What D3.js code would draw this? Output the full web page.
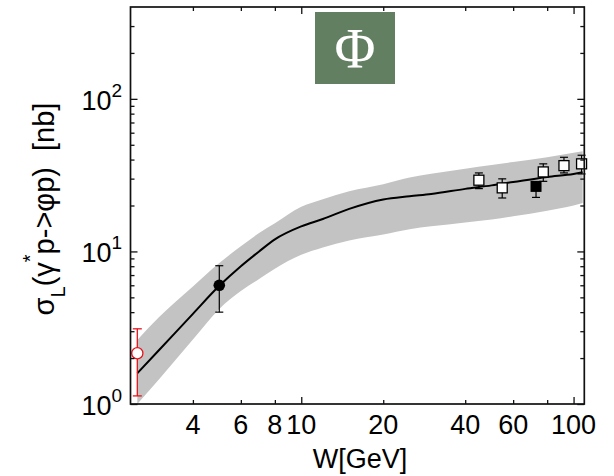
<!DOCTYPE html>
<html>
<head>
<meta charset="utf-8">
<script src="https://cdn.jsdelivr.net/npm/d3@7"></script>
<style>
  html, body { margin: 0; padding: 0; background: #fff; }
  svg { display: block; }
</style>
</head>
<body>
<svg id="chart" width="614" height="476"></svg>
<script>
// ---------- data ----------
const curveW     = [2.5, 3, 4, 5, 6, 7, 8, 10, 12, 15, 20, 25, 30, 40, 50, 60, 80, 100, 108];
const curveSigma = [1.59, 2.25, 3.9, 5.95, 8.0, 10.0, 12.0, 14.6, 16.3, 19.0, 21.9, 23.0, 23.8, 25.7, 27.1, 28.5, 30.8, 32.2, 33.0];
const bandUpper  = [2.63, 3.7, 5.9, 8.4, 10.8, 13.2, 15.3, 19.6, 22.0, 24.8, 27.6, 30.5, 32.3, 34.8, 36.8, 38.5, 41.5, 44.3, 45.4];
const bandLower  = [1.0, 1.45, 2.65, 4.2, 5.5, 6.6, 7.7, 9.5, 10.6, 11.8, 12.9, 14.0, 14.6, 15.5, 16.2, 17.0, 18.5, 20.0, 20.8];

const redW = [2.5],  redSigma = [2.15],  redLo = [1.13], redHi = [3.11];
const dotW = [5.0],  dotSigma = [6.0],   dotLo = [4.0],  dotHi = [8.06];
const openW     = [44.9, 54.7, 77.4, 92.2, 107];
const openSigma = [29.3, 26.1, 33.2, 36.5, 37.5];
const openLo    = [25.8, 22.4, 28.8, 32.7, 32.2];
const openHi    = [32.7, 29.9, 37.5, 41.4, 42.7];
const fillW = [72.8], fillSigma = [26.7], fillLo = [22.6], fillHi = [28.6];

const xTickValues  = [4, 6, 8, 10, 20, 40, 60, 80, 100];
const xLabelValues = [4, 6, 8, 10, 20, 40, 60, 100];
const xLabelTexts  = ["4", "6", "8", "10", "20", "40", "60", "100"];
const xMajor = [10, 100];
const yMajorValues = [1, 10, 100];
const yMajorExp = ["0", "1", "2"];
const yMinorValues = [2,3,4,5,6,7,8,9,20,30,40,50,60,70,80,90,200,300];

// ---------- layout ----------
const L = 130.5, R = 584.3, T = 7, B = 404;
const svg = d3.select("#chart");
const x = d3.scaleLog().domain([2.36, 109.5]).range([L, R]);
const y = d3.scaleLog().domain([1, 400]).range([B, T]);
const FONT = "'Liberation Sans', Arial, sans-serif";

// band
const bandData = curveW.map((w, i) => ({w, lo: bandLower[i], hi: bandUpper[i]}));
svg.append("path")
  .datum(bandData)
  .attr("fill", "#c3c3c3")
  .attr("d", d3.area().x(d => x(d.w)).y0(d => y(d.lo)).y1(d => y(d.hi)).curve(d3.curveMonotoneX));

// curve
svg.append("path")
  .datum(curveW.map((w, i) => ({w, s: curveSigma[i]})))
  .attr("fill", "none").attr("stroke", "#000").attr("stroke-width", 2)
  .attr("d", d3.line().x(d => x(d.w)).y(d => y(d.s)).curve(d3.curveMonotoneX));

// error bars helper
function errorBars(ws, lo, hi, color, cap, sw) {
  const g = svg.append("g").attr("stroke", color).attr("stroke-width", sw).attr("fill", "none");
  ws.forEach((w, i) => {
    const cx = x(w);
    g.append("line").attr("x1", cx).attr("x2", cx).attr("y1", y(lo[i])).attr("y2", y(hi[i]));
    g.append("line").attr("x1", cx - cap).attr("x2", cx + cap).attr("y1", y(lo[i])).attr("y2", y(lo[i]));
    g.append("line").attr("x1", cx - cap).attr("x2", cx + cap).attr("y1", y(hi[i])).attr("y2", y(hi[i]));
  });
}

errorBars(redW, redLo, redHi, "#e8141c", 4.5, 1.3);
errorBars(dotW, dotLo, dotHi, "#000", 4, 1.2);
errorBars(openW, openLo, openHi, "#000", 4, 1.2);
errorBars(fillW, fillLo, fillHi, "#000", 4, 1.2);

// points
svg.selectAll(".red").data(redW).enter().append("circle")
  .attr("cx", d => x(d)).attr("cy", (d, i) => y(redSigma[i])).attr("r", 5.6)
  .attr("fill", "#fff").attr("stroke", "#e8141c").attr("stroke-width", 1.3);
svg.selectAll(".dot").data(dotW).enter().append("circle")
  .attr("cx", d => x(d)).attr("cy", (d, i) => y(dotSigma[i])).attr("r", 5.8)
  .attr("fill", "#000");
const SQ = 10;
svg.selectAll(".open").data(openW).enter().append("rect")
  .attr("x", d => x(d) - SQ/2).attr("y", (d, i) => y(openSigma[i]) - SQ/2)
  .attr("width", SQ).attr("height", SQ)
  .attr("fill", "#fff").attr("stroke", "#000").attr("stroke-width", 1.3);
svg.selectAll(".filled").data(fillW).enter().append("rect")
  .attr("x", d => x(d) - SQ/2).attr("y", (d, i) => y(fillSigma[i]) - SQ/2)
  .attr("width", SQ).attr("height", SQ)
  .attr("fill", "#000").attr("stroke", "#000").attr("stroke-width", 1);

// Phi box
svg.append("rect").attr("x", 315).attr("y", 12).attr("width", 80).attr("height", 72).attr("fill", "#637f62");
svg.append("text").attr("x", 355).attr("y", 68).attr("text-anchor", "middle")
  .attr("font-family", "'Liberation Serif', 'Times New Roman', serif").attr("font-size", 56)
  .attr("fill", "#fff").text("Φ");

// frame
svg.append("rect").attr("x", L).attr("y", T).attr("width", R - L).attr("height", B - T)
  .attr("fill", "none").attr("stroke", "#111").attr("stroke-width", 1.7);

// axes ticks (inward on all sides) via d3 axes
const xb = d3.axisBottom(x).tickValues(xTickValues).tickFormat("").tickSizeOuter(0);
const gxb = svg.append("g").attr("transform", `translate(0,${B})`).call(xb);
const gxt = svg.append("g").attr("transform", `translate(0,${T})`).call(d3.axisTop(x).tickValues(xTickValues).tickFormat("").tickSizeOuter(0));
[gxb, gxt].forEach((g, k) => {
  g.select(".domain").remove();
  g.selectAll(".tick line")
    .attr("stroke", "#111").attr("stroke-width", 1.3)
    .attr("y2", d => (k === 0 ? -1 : 1) * (xMajor.includes(d) ? 7 : 4));
});

const yAll = yMajorValues.concat(yMinorValues);
const gyl = svg.append("g").attr("transform", `translate(${L},0)`).call(d3.axisLeft(y).tickValues(yAll).tickFormat("").tickSizeOuter(0));
const gyr = svg.append("g").attr("transform", `translate(${R},0)`).call(d3.axisRight(y).tickValues(yAll).tickFormat("").tickSizeOuter(0));
[gyl, gyr].forEach((g, k) => {
  g.select(".domain").remove();
  g.selectAll(".tick line")
    .attr("stroke", "#111").attr("stroke-width", 1.3)
    .attr("x2", d => (k === 0 ? 1 : -1) * (yMajorValues.includes(d) ? 7 : 4));
});

// x tick labels
svg.append("g").selectAll("text").data(xLabelValues).enter().append("text")
  .attr("x", d => x(d)).attr("y", 434).attr("text-anchor", "middle")
  .attr("font-family", FONT).attr("font-size", 27).attr("fill", "#000")
  .text((d, i) => xLabelTexts[i]);

// y tick labels
yMajorValues.forEach((v, i) => {
  const t = svg.append("text").attr("x", 122).attr("y", y(v) + 11).attr("text-anchor", "end")
    .attr("font-family", FONT).attr("font-size", 27).attr("fill", "#000");
  t.append("tspan").text("10");
  t.append("tspan").attr("dy", -13).attr("font-size", 19).text(yMajorExp[i]);
});

// x title
svg.append("text").attr("x", 360).attr("y", 468).attr("text-anchor", "middle")
  .attr("font-family", FONT).attr("font-size", 27).attr("fill", "#000").text("W[GeV]");

// y title
const yt = svg.append("text").attr("transform", "translate(54,209) rotate(-90)")
  .attr("text-anchor", "middle").attr("font-family", FONT).attr("font-size", 29).attr("fill", "#000")
  .attr("xml:space", "preserve");
yt.append("tspan").text("σ");
yt.append("tspan").attr("dy", 11).attr("font-size", 20).text("L");
yt.append("tspan").attr("dy", -11).text("(γ");
yt.append("tspan").attr("dy", -17).attr("font-size", 20).text("*");
yt.append("tspan").attr("dy", 17).text("p->φp)  [nb]");
</script>
</body>
</html>
